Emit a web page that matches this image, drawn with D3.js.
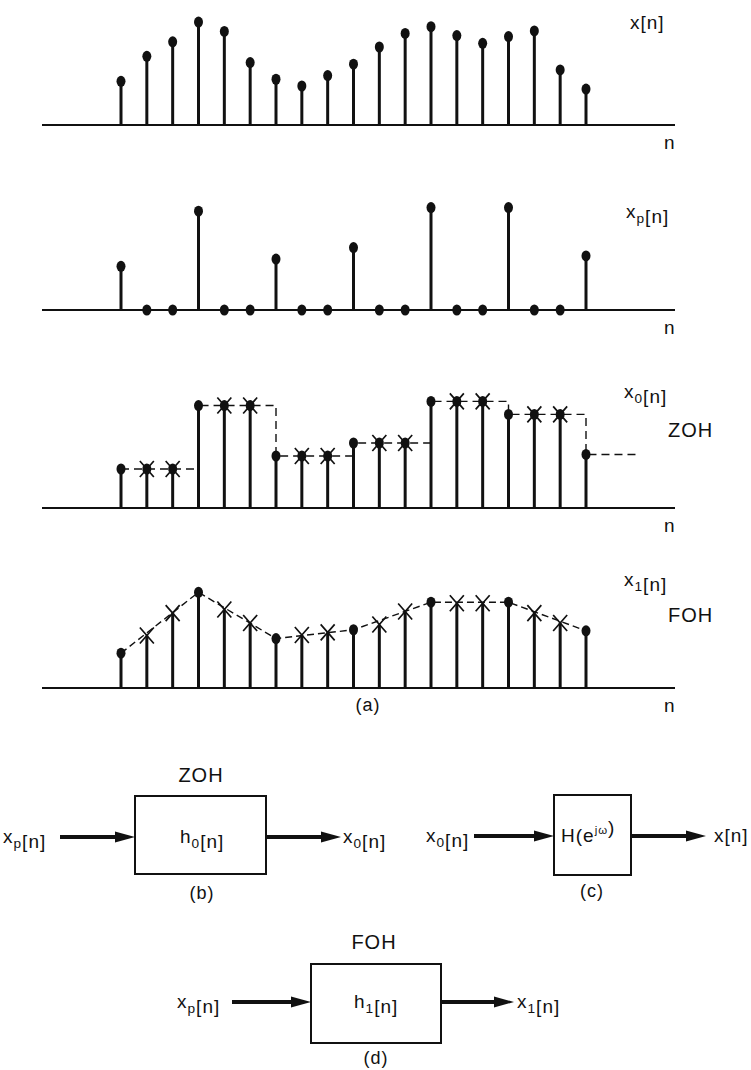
<!DOCTYPE html>
<html>
<head>
<meta charset="utf-8">
<script src="https://cdn.jsdelivr.net/npm/d3@7"></script>
<style>
  body { margin: 0; background: #fff; }
  text { font-family: "Liberation Sans", Arial, sans-serif; fill: #111; letter-spacing: 1px; }
</style>
</head>
<body>
<script>
// sample index n
const nIdx = d3.range(19);
// x[n]
const xVals = [4.2, 6.6, 8.0, 9.9, 9.0, 6.0, 4.4, 3.75, 4.75, 5.85, 7.5, 8.8, 9.45, 8.6, 7.85, 8.5, 9.05, 5.3, 3.45];
// x_p[n] (every third sample kept)
const xpVals = [4.2, 0, 0, 9.5, 0, 0, 4.9, 0, 0, 6.0, 0, 0, 9.85, 0, 0, 9.85, 0, 0, 5.2];
// x_0[n] zero-order hold
const x0Vals = [3.75, 3.75, 3.75, 9.85, 9.85, 9.85, 5.0, 5.0, 5.0, 6.25, 6.25, 6.25, 10.25, 10.25, 10.25, 9.0, 9.0, 9.0, 5.15];
const x0HoldEnd = 20;
// x_1[n] first-order hold
const x1Vals = [3.35, 5.05, 7.2, 9.2, 7.55, 6.25, 4.75, 5.1, 5.35, 5.6, 6.1, 7.35, 8.25, 8.15, 8.15, 8.25, 7.2, 6.25, 5.5];
const step = 3;

const width = 751, height = 1070;

const svg = d3.select("body").append("svg")
  .attr("width", width)
  .attr("height", height);

const x = d3.scaleLinear().domain([0, 18]).range([121, 586]);

// label helper: parts like ["x", {sub: "p"}, "[n]"]
function label(g, px, py, parts, size) {
  size = size || 19;
  const t = g.append("text").attr("x", px).attr("y", py).style("font-size", size + "px");
  parts.forEach(p => {
    if (typeof p === "string") {
      t.append("tspan").text(p);
    } else if (p.sub) {
      t.append("tspan").attr("dy", 5).style("font-size", (size * 0.72) + "px").text(p.sub);
      t.append("tspan").attr("dy", -5).text("");
    } else if (p.sup) {
      t.append("tspan").attr("dy", -8).style("font-size", (size * 0.6) + "px").text(p.sup);
      t.append("tspan").attr("dy", 8).text("");
    }
  });
  return t;
}

function panel(base, vals) {
  const g = svg.append("g");
  const y = d3.scaleLinear().domain([0, 10]).range([base, base - 104]);
  g.append("line")
    .attr("x1", 42).attr("x2", 675)
    .attr("y1", base).attr("y2", base)
    .attr("stroke", "#111").attr("stroke-width", 1.8);
  g.append("text").attr("x", 664).attr("y", base + 24).style("font-size", "19px").text("n");
  return { g, y, vals };
}

function stems(p) {
  p.g.selectAll(".stem")
    .data(nIdx.filter(i => p.vals[i] > 0))
    .enter().append("line")
    .attr("class", "stem")
    .attr("x1", i => x(i)).attr("x2", i => x(i))
    .attr("y1", p.y(0)).attr("y2", i => p.y(p.vals[i]))
    .attr("stroke", "#111").attr("stroke-width", 3);
}

function dots(p, idx) {
  p.g.selectAll(".dot")
    .data(idx)
    .enter().append("ellipse")
    .attr("class", "dot")
    .attr("cx", i => x(i)).attr("cy", i => p.y(p.vals[i]))
    .attr("rx", 4.5).attr("ry", 5.5)
    .attr("fill", "#111");
}

function crosses(p, idx, s) {
  p.g.selectAll(".cross")
    .data(idx)
    .enter().append("path")
    .attr("class", "cross")
    .attr("d", i => {
      const cx = x(i), cy = p.y(p.vals[i]);
      return `M${cx - s},${cy - s - 1}L${cx + s},${cy + s + 1}M${cx + s},${cy - s - 1}L${cx - s},${cy + s + 1}`;
    })
    .attr("stroke", "#111").attr("stroke-width", 1.7).attr("fill", "none");
}

// x[n]
const p1 = panel(125, xVals);
stems(p1);
dots(p1, nIdx);
label(p1.g, 630, 29, ["x[n]"]);

// x_p[n]
const p2 = panel(310, xpVals);
stems(p2);
dots(p2, nIdx);
label(p2.g, 626, 218, ["x", { sub: "p" }, "[n]"]);

// x_0[n] with ZOH
const p3 = panel(508, x0Vals);
const samples = nIdx.filter(i => i % step === 0);
const holdPts = samples.map(i => [i, x0Vals[i]]).concat([[x0HoldEnd, x0Vals[18]]]);
p3.g.append("path")
  .attr("d", d3.line().x(d => x(d[0])).y(d => p3.y(d[1])).curve(d3.curveStepAfter)(holdPts))
  .attr("fill", "none").attr("stroke", "#111").attr("stroke-width", 1.4)
  .attr("stroke-dasharray", "8,5");
stems(p3);
dots(p3, nIdx);
crosses(p3, nIdx.filter(i => i % step !== 0), 7);
label(p3.g, 624, 398, ["x", { sub: "0" }, "[n]"]);
p3.g.append("text").attr("x", 668).attr("y", 437).style("font-size", "20px").text("ZOH");

// x_1[n] with FOH
const p4 = panel(688, x1Vals);
p4.g.append("path")
  .attr("d", d3.line().x(i => x(i)).y(i => p4.y(x1Vals[i]))(samples))
  .attr("fill", "none").attr("stroke", "#111").attr("stroke-width", 1.4)
  .attr("stroke-dasharray", "7,4");
stems(p4);
dots(p4, samples);
crosses(p4, nIdx.filter(i => i % step !== 0), 7);
label(p4.g, 624, 586, ["x", { sub: "1" }, "[n]"]);
p4.g.append("text").attr("x", 668).attr("y", 622).style("font-size", "20px").text("FOH");
svg.append("text").attr("x", 368).attr("y", 711).attr("text-anchor", "middle").style("font-size", "18px").text("(a)");

// block diagrams
function arrow(x1, x2, yy) {
  svg.append("line")
    .attr("x1", x1).attr("x2", x2 - 14)
    .attr("y1", yy).attr("y2", yy)
    .attr("stroke", "#111").attr("stroke-width", 4);
  svg.append("path")
    .attr("d", `M${x2},${yy}L${x2 - 20},${yy - 5.5}L${x2 - 20},${yy + 5.5}Z`)
    .attr("fill", "#111");
}

function box(x1, y1, w, h) {
  svg.append("rect")
    .attr("x", x1).attr("y", y1).attr("width", w).attr("height", h)
    .attr("fill", "none").attr("stroke", "#111").attr("stroke-width", 2);
}

// (b) ZOH
box(135, 796, 131, 78);
svg.append("text").attr("x", 201).attr("y", 782).attr("text-anchor", "middle").style("font-size", "20px").text("ZOH");
label(svg, 3, 843, ["x", { sub: "p" }, "[n]"]);
arrow(60, 135, 837);
label(svg, 180, 843, ["h", { sub: "0" }, "[n]"]);
arrow(266, 341, 837);
label(svg, 343, 843, ["x", { sub: "0" }, "[n]"]);
svg.append("text").attr("x", 202).attr("y", 899).attr("text-anchor", "middle").style("font-size", "18px").text("(b)");

// (c) reconstruction filter
box(554, 795, 77, 80);
label(svg, 426, 842, ["x", { sub: "0" }, "[n]"]);
arrow(474, 554, 836);
label(svg, 561, 842, ["H(e", { sup: "jω" }, ")"]);
arrow(631, 706, 836);
label(svg, 714, 842, ["x[n]"]);
svg.append("text").attr("x", 592).attr("y", 897).attr("text-anchor", "middle").style("font-size", "18px").text("(c)");

// (d) FOH
box(311, 964, 130, 79);
svg.append("text").attr("x", 374).attr("y", 949).attr("text-anchor", "middle").style("font-size", "20px").text("FOH");
label(svg, 177, 1008, ["x", { sub: "p" }, "[n]"]);
arrow(232, 311, 1002);
label(svg, 354, 1008, ["h", { sub: "1" }, "[n]"]);
arrow(441, 514, 1002);
label(svg, 517, 1008, ["x", { sub: "1" }, "[n]"]);
svg.append("text").attr("x", 376).attr("y", 1064).attr("text-anchor", "middle").style("font-size", "18px").text("(d)");
</script>
</body>
</html>
